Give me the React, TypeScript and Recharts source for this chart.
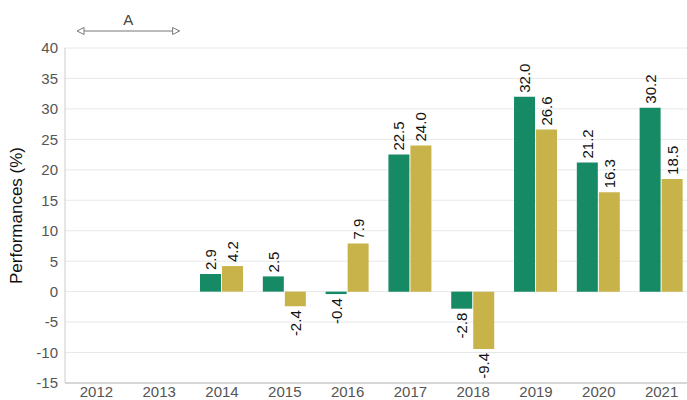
import {
  BarChart,
  Bar,
  XAxis,
  YAxis,
  CartesianGrid,
  LabelList,
  ReferenceArea,
} from 'recharts'

const years = ['2012', '2013', '2014', '2015', '2016', '2017', '2018', '2019', '2020', '2021']
const fundPerf = [null, null, 2.9, 2.5, -0.4, 22.5, -2.8, 32.0, 21.2, 30.2]
const indexPerf = [null, null, 4.2, -2.4, 7.9, 24.0, -9.4, 26.6, 16.3, 18.5]
const yTicks = [-15, -10, -5, 0, 5, 10, 15, 20, 25, 30, 35, 40]

const annotationLabel = 'A'
const annotationFrom = '2012'
const annotationTo = '2013'

const GREEN = '#168a64'
const GOLD = '#c8b34a'

const data = years.map((year, i) => ({
  year,
  fund: fundPerf[i],
  index: indexPerf[i],
}))

const ValueLabel = (props: any) => {
  const { x, y, width, height, value } = props
  if (value === null || value === undefined) return null
  const cx = Number(x) + Number(width) / 2
  const top = Math.min(Number(y), Number(y) + Number(height))
  const bottom = Math.max(Number(y), Number(y) + Number(height))
  const neg = value < 0
  const ly = neg ? bottom + 4 : top - 4
  return (
    <text
      x={cx}
      y={ly}
      transform={`rotate(-90 ${cx} ${ly})`}
      textAnchor={neg ? 'end' : 'start'}
      dominantBaseline="central"
      fontSize={15}
      fill="#111"
    >
      {Number(value).toFixed(1)}
    </text>
  )
}

const ArrowAnnotation = (props: any) => {
  const { x, y, width } = props
  const x1 = x + 12
  const x2 = x + width - 11
  const ay = y - 17
  return (
    <g>
      <line x1={x1 + 7} y1={ay} x2={x2 - 7} y2={ay} stroke="#777" strokeWidth={1} />
      <polygon
        points={`${x1},${ay} ${x1 + 7},${ay - 3.5} ${x1 + 7},${ay + 3.5}`}
        fill="#fff"
        stroke="#777"
        strokeWidth={1}
      />
      <polygon
        points={`${x2},${ay} ${x2 - 7},${ay - 3.5} ${x2 - 7},${ay + 3.5}`}
        fill="#fff"
        stroke="#777"
        strokeWidth={1}
      />
      <text x={(x1 + x2) / 2} y={ay - 6} textAnchor="middle" fontSize={15} fill="#444">
        {annotationLabel}
      </text>
    </g>
  )
}

const YLabel = (props: any) => {
  const vb = props.viewBox || {}
  const cx = 16
  const cy = vb.y + vb.height / 2
  return (
    <text
      x={cx}
      y={cy}
      transform={`rotate(-90 ${cx} ${cy})`}
      textAnchor="middle"
      dominantBaseline="central"
      fontSize={17}
      fill="#111"
    >
      Performances (%)
    </text>
  )
}

const App = () => {
  return (
    <div
      style={{
        position: 'absolute',
        left: 0,
        top: 0,
        width: 687,
        height: 400,
        overflow: 'hidden',
        background: '#fff',
        fontFamily: '"Liberation Sans", Arial, sans-serif',
      }}
    >
      <BarChart
        width={693}
        height={400}
        data={data}
        margin={{ top: 48, right: 0, left: 0, bottom: 0 }}
        barCategoryGap="15%"
        barGap={1}
      >
        <CartesianGrid vertical={false} stroke="#e8e8e8" />
        <XAxis
          dataKey="year"
          height={17}
          tickLine={false}
          tickSize={0}
          tickMargin={3}
          axisLine={{ stroke: '#bbb' }}
          tick={{ fill: '#555', fontSize: 15 }}
          interval={0}
        />
        <YAxis
          width={65}
          domain={[-15, 40]}
          ticks={yTicks}
          tickLine={false}
          tickSize={0}
          tickMargin={7}
          axisLine={{ stroke: '#ccc' }}
          tick={{ fill: '#555', fontSize: 15 }}
          label={<YLabel />}
        />
        <ReferenceArea
          x1={annotationFrom}
          x2={annotationTo}
          ifOverflow="visible"
          shape={<ArrowAnnotation />}
        />
        <Bar dataKey="fund" fill={GREEN} isAnimationActive={false}>
          <LabelList dataKey="fund" content={<ValueLabel />} />
        </Bar>
        <Bar dataKey="index" fill={GOLD} isAnimationActive={false}>
          <LabelList dataKey="index" content={<ValueLabel />} />
        </Bar>
      </BarChart>
    </div>
  )
}

export default App
